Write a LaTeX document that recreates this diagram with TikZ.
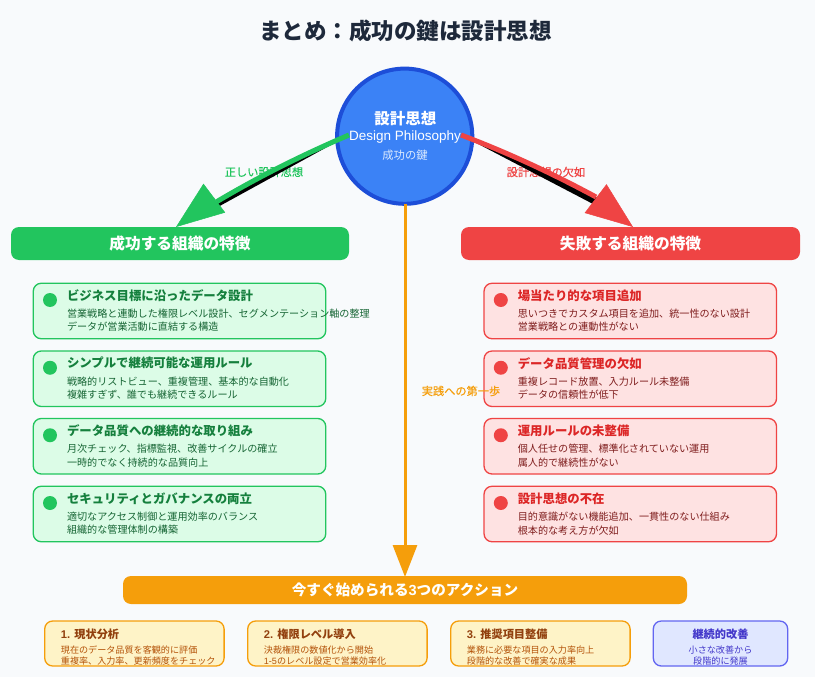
\documentclass[tikz,border=0pt]{standalone}
\usepackage{fontspec}
\setmainfont{Noto Sans CJK JP}
\newfontfamily\lat{Liberation Sans}
\newfontfamily\semibold[FakeBold=0.35]{Noto Sans CJK JP}
\usetikzlibrary{arrows.meta}
\definecolor{bgc}{HTML}{F8FAFC}
\definecolor{ink}{HTML}{1E293B}
\definecolor{gmain}{HTML}{22C55E}
\definecolor{gsoft}{HTML}{DCFCE7}
\definecolor{gtitle}{HTML}{15803D}
\definecolor{gdesc}{HTML}{166534}
\definecolor{rmain}{HTML}{EF4444}
\definecolor{rsoft}{HTML}{FEE2E2}
\definecolor{rtitle}{HTML}{DC2626}
\definecolor{rdesc}{HTML}{7F1D1D}
\definecolor{omain}{HTML}{F59E0B}
\definecolor{osoft}{HTML}{FEF3C7}
\definecolor{otitle}{HTML}{92400E}
\definecolor{odesc}{HTML}{B45309}
\definecolor{pmain}{HTML}{6366F1}
\definecolor{psoft}{HTML}{E0E7FF}
\definecolor{ptitle}{HTML}{4338CA}
\definecolor{hubfill}{HTML}{3B82F6}
\definecolor{hubline}{HTML}{1D4ED8}
\definecolor{hubsub}{HTML}{DBEAFE}
\newcommand{\fs}[2]{\fontsize{#1}{#2}\selectfont}
\tikzset{
  txt/.style={inner sep=0pt,outer sep=0pt},
  card/.style={draw,rounded corners=8pt,line width=1.3pt,minimum width=292.5pt,minimum height=55.5pt,inner sep=0pt,outer sep=0pt},
  goodcard/.style={card,draw=gmain,fill=gsoft},
  badcard/.style={card,draw=rmain,fill=rsoft},
  carddot/.style={circle,minimum size=14pt,inner sep=0pt,outer sep=0pt},
  cardtitle/.style={txt,anchor=west,font=\fs{12.4}{14}\bfseries},
  carddesc/.style={txt,anchor=west,align=left,font=\fs{10.1}{13.7}},
  head/.style={rounded corners=8pt,minimum height=33pt,inner sep=0pt,outer sep=0pt,text=white,font=\fs{15.7}{18}\bfseries},
  action/.style={draw,rounded corners=8pt,line width=1.3pt,minimum height=45pt,inner sep=0pt,outer sep=0pt},
  acttitle/.style={txt,anchor=west,font=\fs{11.2}{13}\bfseries},
  actdesc/.style={txt,align=left,anchor=west,font=\fs{9.1}{11}},
  flowlabel/.style={txt,font=\semibold\fs{11.2}{13}},
}
% name, style, centre x, centre y, colour stem, title, description
\newcommand{\infocard}[7]{%
  \node[#2] (#1) at (#3,#4) {};
  \node[carddot,fill=#5main] (#1dot) at ({#3-129.5},{#4-11}) {};
  \node[cardtitle,text=#5title] (#1title) at ({#3-112.5},{#4-15.5}) {#6};
  \node[carddesc,text=#5desc] (#1desc) at ({#3-112.5},{#4+9.3}) {#7};
}
% name, centre x, width, title, description
\newcommand{\actioncard}[5]{%
  \node[action,draw=omain,fill=osoft,minimum width=#3pt] (#1) at (#2,643.5) {};
  \node[acttitle,text=otitle] (#1title) at ({#2-#3/2+16.2},634) {#4};
  \node[actdesc,text=odesc] (#1desc) at ({#2-#3/2+16.2},655.8) {#5};
}
\begin{document}
\begin{tikzpicture}[x=1pt,y=-1pt]
\useasboundingbox (0,0) rectangle (815,696);
\fill[bgc] (0,0) rectangle (815,677);
\node[txt,text=ink,font=\fs{22.5}{26}\bfseries] (maintitle) at (405.7,31.3) {まとめ：成功の鍵は設計思想};

% headers
\node[head,fill=gmain,minimum width=338pt] (goodhead) at (180,243.5) {成功する組織の特徴};
\node[head,fill=rmain,minimum width=339pt] (badhead) at (630.5,243.5) {失敗する組織の特徴};

% hub
\node[circle,draw=hubline,fill=hubfill,line width=4pt,minimum size=135.2pt,inner sep=0pt,outer sep=0pt] (hub) at (404.7,136.2) {};
\node[txt,text=white,font=\fs{15.5}{18}\bfseries] (hubjp) at (405.3,119) {設計思想};
\node[txt,text=white,font=\lat\fs{13.5}{16}] (huben) at (405,137) {Design Philosophy};
\node[txt,text=hubsub,font=\fs{11.3}{13}] (hubkey) at (405,155) {成功の鍵};

% flow labels under the arrows
\node[flowlabel,text=gmain] (goodlabel) at (264,172) {正しい設計思想};
\node[flowlabel,text=rmain] (badlabel) at (546,172) {設計思想の欠如};

% connector ends
\coordinate (goodstart) at (349,135);
\coordinate (badstart) at (461,135);
\coordinate (goodend) at (216.7,201.7);
\coordinate (badend) at (596,197);
\coordinate (goodneck) at (214.5,198);
\coordinate (badneck) at (595.5,198.5);
\coordinate (goodtip) at (176,227);
\coordinate (badtip) at (633,227);
\coordinate (goodchord) at (196,219);
\coordinate (badchord) at (616,216);
\coordinate (orangestart) at (405,204);
\coordinate (orangetip) at (405,577);

% black wedges (filled area between curve and chord)
\fill[black] (goodstart) .. controls (301.1,155.4) and (257,177.7) .. (goodend) -- (goodchord) -- cycle;
\fill[black] (badstart) .. controls (505.3,151.7) and (550.3,172.3) .. (badend) -- (badchord) -- cycle;

% cards
\infocard{g1}{goodcard}{179.5}{311}{g}{ビジネス目標に沿ったデータ設計}{営業戦略と連動した権限レベル設計、セグメンテーション軸の整理\\データが営業活動に直結する構造}
\infocard{g2}{goodcard}{179.5}{378.75}{g}{シンプルで継続可能な運用ルール}{戦略的リストビュー、重複管理、基本的な自動化\\複雑すぎず、誰でも継続できるルール}
\infocard{g3}{goodcard}{179.5}{446.25}{g}{データ品質への継続的な取り組み}{月次チェック、指標監視、改善サイクルの確立\\一時的でなく持続的な品質向上}
\infocard{g4}{goodcard}{179.5}{514}{g}{セキュリティとガバナンスの両立}{適切なアクセス制御と運用効率のバランス\\組織的な管理体制の構築}
\infocard{r1}{badcard}{630.3}{311}{r}{場当たり的な項目追加}{思いつきでカスタム項目を追加、統一性のない設計\\営業戦略との連動性がない}
\infocard{r2}{badcard}{630.3}{378.75}{r}{データ品質管理の欠如}{重複レコード放置、入力ルール未整備\\データの信頼性が低下}
\infocard{r3}{badcard}{630.3}{446.25}{r}{運用ルールの未整備}{個人任せの管理、標準化されていない運用\\属人的で継続性がない}
\infocard{r4}{badcard}{630.3}{514}{r}{設計思想の不在}{目的意識がない機能追加、一貫性のない仕組み\\根本的な考え方が欠如}

% action bar
\node[rounded corners=8pt,fill=omain,minimum width=564pt,minimum height=28pt,inner sep=0pt,outer sep=0pt,text=white,font=\fs{14.6}{17}\bfseries] (actionbar) at (405,590) {今すぐ始められる{\lat 3}つのアクション};

% actions
\actioncard{a1}{134.4}{179.4}{{\lat 1. }現状分析}{現在のデータ品質を客観的に評価\\重複率、入力率、更新頻度をチェック}
\actioncard{a2}{337.4}{179.4}{{\lat 2. }権限レベル導入}{決裁権限の数値化から開始\\{\lat 1-5}のレベル設定で営業効率化}
\actioncard{a3}{540.4}{179.4}{{\lat 3. }推奨項目整備}{業務に必要な項目の入力率向上\\段階的な改善で確実な成果}
\node[action,draw=pmain,fill=psoft,minimum width=134.4pt] (a4) at (720.5,643.5) {};
\node[acttitle,anchor=center,text=ptitle] (a4title) at (720.5,634) {継続的改善};
\node[actdesc,anchor=center,align=center,text=ptitle] (a4desc) at (720.5,655.8) {小さな改善から\\段階的に発展};

% connectors
\draw[gmain,line width=5pt] (goodstart) .. controls (301.1,155.4) and (257,177.7) .. (goodend);
\draw[gmain,line width=0.5pt,-{Triangle[length=48pt,width=36pt]}] (goodneck) -- (goodtip);
\draw[rmain,line width=5pt] (badstart) .. controls (505.3,151.7) and (550.3,172.3) .. (badend);
\draw[rmain,line width=0.5pt,-{Triangle[length=47pt,width=36pt]}] (badneck) -- (badtip);
\draw[omain,line width=3pt,-{Triangle[length=32pt,width=24pt]}] (orangestart) -- (orangetip);
\node[flowlabel,text=omain] (steplabel) at (461,391) {実践への第一歩};
\end{tikzpicture}
\end{document}
